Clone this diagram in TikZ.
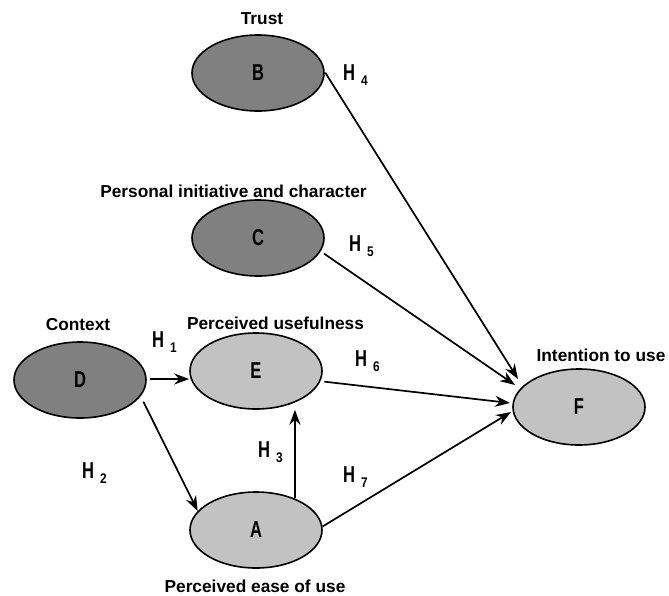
\documentclass[tikz,border=0pt]{standalone}
\usepackage{fontspec}
\usepackage{graphicx}
\setmainfont{Liberation Sans}
\usetikzlibrary{arrows.meta,shapes.geometric,calc}
\definecolor{darkfill}{RGB}{128,128,128}
\definecolor{lightfill}{RGB}{194,194,194}
\newcommand{\Hlab}[1]{\scalebox{0.72}[1]{\fontsize{23}{23}\selectfont\bfseries H}\hspace{6pt}\raisebox{-5pt}{\scalebox{0.85}[1]{\fontsize{14}{14}\selectfont\bfseries #1}}}
\newcommand{\Clet}[1]{\scalebox{0.72}[1]{#1}}
\begin{document}
\begin{tikzpicture}[x=1pt,y=-1pt,
  construct/.style={ellipse, draw=black, line width=1.6pt, minimum width=132pt, minimum height=76pt, inner sep=0pt, font=\fontsize{23}{23}\selectfont\bfseries},
  darkc/.style={construct, fill=darkfill},
  lightc/.style={construct, fill=lightfill},
  lbl/.style={font=\fontsize{17.3}{18}\selectfont\bfseries, inner sep=0pt},
  hyp/.style={inner sep=0pt, anchor=base west},
  link/.style={line width=1.7pt, -{Stealth[length=15pt,width=11pt]}}
]
\useasboundingbox (0,0) rectangle (669,595);
\node[darkc] (B) at (258,73) {\Clet{B}};
\node[darkc] (C) at (258,238) {\Clet{C}};
\node[darkc] (D) at (80,380) {\Clet{D}};
\node[lightc] (E) at (256,371) {\Clet{E}};
\node[lightc] (A) at (256,530) {\Clet{A}};
\node[lightc] (F) at (579,407) {\Clet{F}};

\node[lbl] (tB) at (262,18.5) {Trust};
\node[lbl] (tC) at (233.5,191) {Personal initiative and character};
\node[lbl] (tD) at (78,325) {Context};
\node[lbl] (tE) at (275.5,323) {Perceived usefulness};
\node[lbl] (tF) at (601,355.5) {Intention to use};
\node[lbl] (tA) at (255,586) {Perceived ease of use};

\node[hyp] (h4) at (343,80) {\Hlab{4}};
\node[hyp] (h5) at (349,251) {\Hlab{5}};
\node[hyp] (h1) at (152,347) {\Hlab{1}};
\node[hyp] (h6) at (355,366) {\Hlab{6}};
\node[hyp] (h2) at (82,478) {\Hlab{2}};
\node[hyp] (h3) at (258,457) {\Hlab{3}};
\node[hyp] (h7) at (343,482) {\Hlab{7}};

\coordinate (dEs) at (150,379);
\coordinate (fB) at ($(F.center)+(-61,-28)$);
\coordinate (fC) at ($(F.center)+(-64,-22)$);
\coordinate (fE) at ($(F.center)+(-69,-4)$);
\coordinate (fA) at ($(F.center)+(-68,5)$);
\draw[link] (dEs) -- (E.west |- dEs);
\draw[link, shorten <=6pt] (D.-15) -- (A.162);
\draw[link] (A.39) -- (A.39 |- E.south);
\draw[link, shorten <=1pt] (B.1) -- (fB);
\draw[link, shorten <=4pt] (C.-12) -- (fC);
\draw[link, shorten <=4pt] (E.-9) -- (fE);
\draw[link] (A.3) -- (fA);
\end{tikzpicture}
\end{document}
